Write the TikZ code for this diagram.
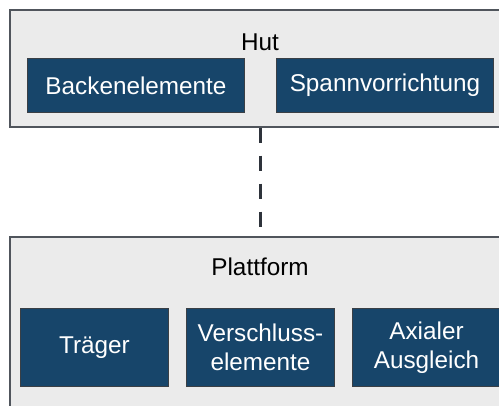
\documentclass[tikz,border=0pt]{standalone}
\usepackage{fontspec}
\setmainfont{Liberation Sans}
\definecolor{outerfill}{HTML}{EBEBEB}
\definecolor{outerline}{HTML}{50555C}
\definecolor{boxfill}{HTML}{17456A}
\definecolor{boxline}{HTML}{3A3F45}
\definecolor{dashcol}{HTML}{2E333B}
\begin{document}
\begin{tikzpicture}[x=1bp,y=-1bp,
  outerbox/.style={draw=outerline,fill=outerfill,line width=1.5bp,anchor=north west,inner sep=0pt},
  partbox/.style={draw=boxline,fill=boxfill,line width=1bp,anchor=north west,inner sep=0pt,
    text=white,font=\fontsize{24.3bp}{28.5bp}\selectfont,align=center},
  title/.style={font=\fontsize{24.3bp}{28.5bp}\selectfont,text=black,inner sep=0pt},
  link/.style={draw=dashcol,line width=3.5bp,dash pattern=on 15bp off 13bp}]
\useasboundingbox (0,0) rectangle (499,405);
\clip (0,0) rectangle (499,405);
\node[outerbox,minimum width=501bp,minimum height=117bp] (hut) at (9,9) {};
\node[title] (huttitle) at (260,42) {Hut};
\node[partbox,minimum width=217bp,minimum height=54bp] (backen) at (27,58) {Backenelemente};
\node[partbox,minimum width=217bp,minimum height=54bp] (spann) at (276,58) {Spannvorrichtung};
\node[outerbox,minimum width=501bp,minimum height=190bp] (platt) at (9,236) {};
\node[title] (platttitle) at (260,267) {Plattform};
\node[partbox,minimum width=148bp,minimum height=78bp] (traeger) at (20,308) {Träger};
\node[partbox,minimum width=148bp,minimum height=78bp] (versch) at (186,308) {Verschluss-\\elemente};
\node[partbox,minimum width=148bp,minimum height=78bp] (axial) at (352,308) {Axialer\\Ausgleich};
\draw[link] (hut.south) -- (platt.north);
\end{tikzpicture}
\end{document}
